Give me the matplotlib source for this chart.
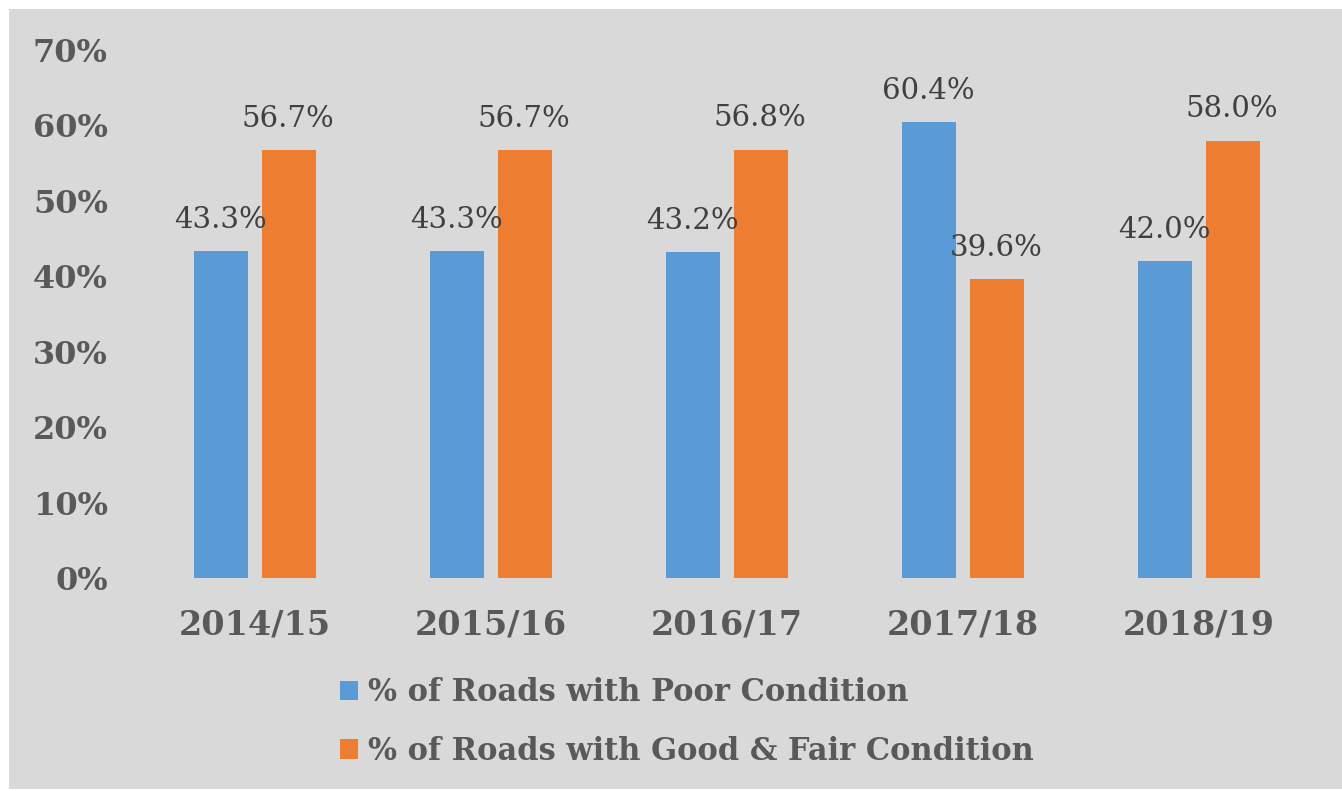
import matplotlib
matplotlib.use('Agg')
import matplotlib.pyplot as plt
from matplotlib.patches import Rectangle
import numpy as np

years = ['2014/15', '2015/16', '2016/17', '2017/18', '2018/19']
poor = [43.3, 43.3, 43.2, 60.4, 42.0]
good_fair = [56.7, 56.7, 56.8, 39.6, 58.0]
series_names = ['% of Roads with Poor Condition',
                '% of Roads with Good & Fair Condition']
yticks = [0, 10, 20, 30, 40, 50, 60, 70]

BLUE = '#5b9bd5'
ORANGE = '#ed7d31'
BG = '#d9d9d9'
TXT = '#595959'

plt.rcParams['font.family'] = ['DejaVu Serif']

fig = plt.figure(figsize=(13.42, 7.91), dpi=100)
fig.patch.set_facecolor('white')
fig.patches.append(Rectangle((9 / 1342, 2 / 791), 1, 780 / 791,
                             transform=fig.transFigure, facecolor=BG,
                             edgecolor='none', zorder=-5))

ax = fig.add_axes([0.1021, 0.2693, 0.8793, 0.6675])
ax.set_zorder(2)
ax.set_facecolor('none')

x = np.arange(len(years))
w = 0.23
off = 0.143
b1 = ax.bar(x - off, poor, w, color=BLUE, label=series_names[0])
b2 = ax.bar(x + off, good_fair, w, color=ORANGE, label=series_names[1])

for bars, vals in ((b1, poor), (b2, good_fair)):
    for rect, v in zip(bars, vals):
        ax.annotate(f'{v:.1f}%',
                    (rect.get_x() + rect.get_width() / 2, rect.get_height()),
                    xytext=(-0.5, 17), textcoords='offset points',
                    ha='center', va='baseline', fontsize=21,
                    color='#404040')

ax.set_xlim(-0.5, len(years) - 0.5)
ax.set_ylim(0, 70)
ax.set_yticks(yticks)
ax.set_yticklabels([f'{t}%' for t in yticks])
ax.set_xticks(x)
ax.set_xticklabels(years)
ax.tick_params(axis='y', length=0, pad=21, labelsize=23, labelcolor=TXT)
ax.tick_params(axis='x', length=0, pad=22, labelsize=24, labelcolor=TXT)
for lab in ax.get_xticklabels() + ax.get_yticklabels():
    lab.set_fontweight('bold')
for s in ax.spines.values():
    s.set_visible(False)

leg = fig.legend(handles=[b1, b2], loc='center left',
                 bbox_to_anchor=(340 / 1342, 1 - 722 / 791),
                 frameon=False, ncol=1, borderpad=0, borderaxespad=0,
                 handlelength=0.6, handleheight=0.6, handletextpad=0.3,
                 labelspacing=0.9,
                 prop={'size': 22, 'weight': 'bold'})
for t in leg.get_texts():
    t.set_color(TXT)

fig.savefig('out.png', dpi=100, facecolor=fig.get_facecolor())
